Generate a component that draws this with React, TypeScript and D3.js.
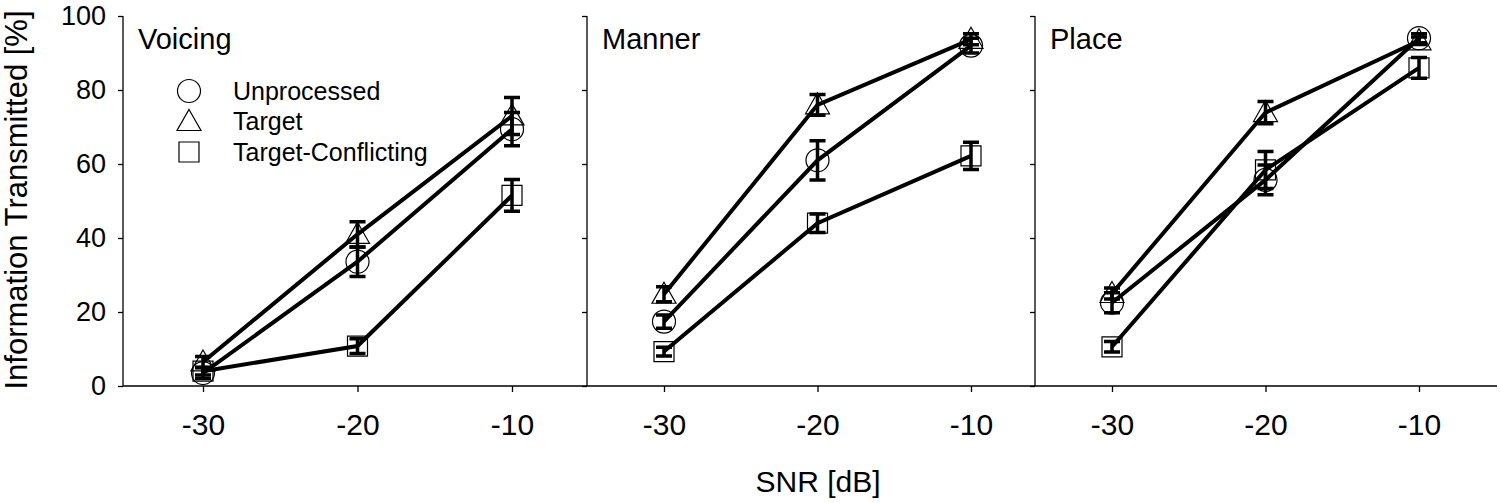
import React, { useRef, useEffect } from "react";
import * as d3 from "d3";

// SNR levels on the x axis
const snrLevels = [-30, -20, -10];
const yTicks = [0, 20, 40, 60, 80, 100];

const panelNames = ["Voicing", "Manner", "Place"];
const conditions = ["Unprocessed", "Target", "Target-Conflicting"];

// mean values per panel, one array per condition (order of snrLevels)
const voicingUnprocessed = [3.5, 33.6, 69.4];
const voicingTarget = [6.5, 41, 73];
const voicingConflicting = [4, 10.8, 51.5];
const voicingUnprocessedErr = [1.5, 4, 4.5];
const voicingTargetErr = [1.5, 3.4, 5];
const voicingConflictingErr = [1, 2, 4.3];

const mannerUnprocessed = [17.4, 61, 92];
const mannerTarget = [24.8, 76, 93.7];
const mannerConflicting = [9.3, 44, 62.2];
const mannerUnprocessedErr = [1.8, 5.3, 2];
const mannerTargetErr = [2, 2.8, 1.5];
const mannerConflictingErr = [1.2, 2.5, 3.7];

const placeUnprocessed = [22.5, 55.7, 94];
const placeTarget = [25, 73.9, 93.3];
const placeConflicting = [10.6, 58.4, 86];
const placeUnprocessedErr = [2.7, 4, 1.2];
const placeTargetErr = [1.5, 3, 1];
const placeConflictingErr = [1.4, 5, 2.8];

const means = [
  [voicingUnprocessed, voicingTarget, voicingConflicting],
  [mannerUnprocessed, mannerTarget, mannerConflicting],
  [placeUnprocessed, placeTarget, placeConflicting],
];
const errors = [
  [voicingUnprocessedErr, voicingTargetErr, voicingConflictingErr],
  [mannerUnprocessedErr, mannerTargetErr, mannerConflictingErr],
  [placeUnprocessedErr, placeTargetErr, placeConflictingErr],
];

const FONT = "'Liberation Sans', Arial, sans-serif";

// marker outline paths, centred on 0,0
function markerPath(kind: number) {
  if (kind === 0) {
    const p = d3.path();
    p.arc(0, 0, 11.5, 0, 2 * Math.PI);
    return p.toString();
  }
  if (kind === 1) return "M0,-12L12,9L-12,9Z";
  return "M-10,-10H10V10H-10Z";
}

export default function App() {
  const svgRef = useRef(null);
  const width = 1500;
  const height = 503;

  useEffect(() => {
    const svg = d3.select(svgRef.current);
    svg.selectAll("*").remove();

    // panel borders and the pixel position of -30 / -10 in each panel
    const edges = [123, 587, 1035, 1497];
    const tickRanges = [
      [203, 512],
      [664, 971],
      [1112, 1419],
    ];
    const y = d3.scaleLinear().domain([0, 100]).range([386, 16]);

    // x axis line across all panels
    svg
      .append("line")
      .attr("x1", edges[0])
      .attr("x2", edges[3])
      .attr("y1", y(0))
      .attr("y2", y(0))
      .attr("stroke", "#000")
      .attr("stroke-width", 1.3);

    panelNames.forEach((name, pi) => {
      const x = d3.scaleLinear().domain([-30, -10]).range(tickRanges[pi]);
      const g = svg.append("g");

      // left border of the panel with outward ticks
      const yAxis = g
        .append("g")
        .attr("transform", `translate(${edges[pi]},0)`)
        .call(
          d3
            .axisLeft(y)
            .tickValues(yTicks)
            .tickSize(5)
            .tickPadding(12)
            .tickFormat((d) => (pi === 0 ? String(d) : ""))
        );
      yAxis.select(".domain").attr("stroke-width", 1.3).attr("d", `M0,${y(100)}V${y(0)}`);
      yAxis.selectAll(".tick line").attr("stroke-width", 1.3);
      yAxis
        .selectAll(".tick text")
        .attr("font-family", FONT)
        .attr("font-size", 27)
        .attr("fill", "#000");

      // x ticks (plain hyphen, as in the original)
      const xAxis = g
        .append("g")
        .attr("transform", `translate(0,${y(0)})`)
        .call(
          d3
            .axisBottom(x)
            .tickValues(snrLevels)
            .tickSize(6)
            .tickPadding(22)
            .tickFormat((d) => String(d))
        );
      xAxis.select(".domain").remove();
      xAxis.selectAll(".tick line").attr("stroke-width", 1.3);
      xAxis
        .selectAll(".tick text")
        .attr("font-family", FONT)
        .attr("font-size", 30)
        .attr("fill", "#000");

      // panel title
      g.append("text")
        .attr("x", edges[pi] + 15)
        .attr("y", 49)
        .attr("font-family", FONT)
        .attr("font-size", 29)
        .text(name);

      const line = d3
        .line<number>()
        .x((d, i) => x(snrLevels[i]))
        .y((d) => y(d));

      // connecting lines
      means[pi].forEach((vals) => {
        g.append("path")
          .attr("d", line(vals))
          .attr("fill", "none")
          .attr("stroke", "#000")
          .attr("stroke-width", 4);
      });

      // markers
      means[pi].forEach((vals, ci) => {
        g.selectAll(null)
          .data(vals)
          .join("path")
          .attr("transform", (d, i) => `translate(${x(snrLevels[i])},${y(d)})`)
          .attr("d", markerPath(ci))
          .attr("fill", "none")
          .attr("stroke", "#000")
          .attr("stroke-width", 1.2);
      });

      // error bars
      means[pi].forEach((vals, ci) => {
        const errs = errors[pi][ci];
        vals.forEach((v, i) => {
          const cx = x(snrLevels[i]);
          const top = y(v + errs[i]);
          const bot = y(v - errs[i]);
          g.append("path")
            .attr("d", `M${cx},${top}V${bot}M${cx - 8},${top}H${cx + 8}M${cx - 8},${bot}H${cx + 8}`)
            .attr("fill", "none")
            .attr("stroke", "#000")
            .attr("stroke-width", 3.5);
        });
      });
    });

    // legend in first panel
    const legend = svg
      .append("g")
      .selectAll("g")
      .data(conditions)
      .join("g")
      .attr("transform", (d, i) => `translate(189,${91 + i * 30.5})`);
    legend
      .append("path")
      .attr("d", (d, i) => markerPath(i))
      .attr("fill", "none")
      .attr("stroke", "#000")
      .attr("stroke-width", 1.2);
    legend
      .append("text")
      .attr("x", 44)
      .attr("dy", "0.35em")
      .attr("font-family", FONT)
      .attr("font-size", 25)
      .text((d) => d);

    // axis titles
    svg
      .append("text")
      .attr("transform", `translate(27,200) rotate(-90)`)
      .attr("text-anchor", "middle")
      .attr("font-family", FONT)
      .attr("font-size", 31)
      .text("Information Transmitted [%]");

    svg
      .append("text")
      .attr("x", 818)
      .attr("y", 492)
      .attr("text-anchor", "middle")
      .attr("font-family", FONT)
      .attr("font-size", 30)
      .text("SNR [dB]");
  }, []);

  return (
    <svg
      ref={svgRef}
      width={width}
      height={height}
      style={{ position: "absolute", left: 0, top: 0, background: "#fff" }}
    ></svg>
  );
}
